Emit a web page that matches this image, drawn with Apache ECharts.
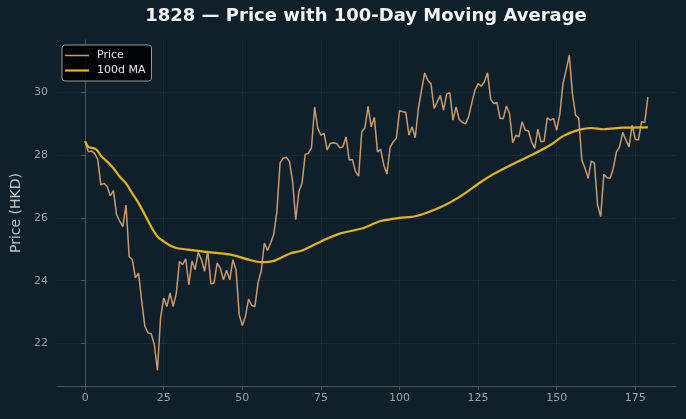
<!DOCTYPE html>
<html><head><meta charset="utf-8">
<script src="https://cdn.jsdelivr.net/npm/echarts@6/dist/echarts.min.js"></script>
<style>html,body{margin:0;padding:0;background:#10202a;} #c{width:686px;height:419px;}</style>
</head><body><div id="c"></div>
<script>
const chartTitle = "1828 — Price with 100-Day Moving Average";
const yAxisName = "Price (HKD)";
const seriesNames = ["Price", "100d MA"];
const price = [
28.44,28.10,28.13,28.05,27.87,27.05,27.10,27.00,26.70,26.87,
26.10,25.90,25.72,26.41,24.77,24.67,24.09,24.24,23.34,22.55,
22.34,22.31,21.97,21.15,22.82,23.45,23.18,23.61,23.18,23.60,
24.61,24.51,24.70,23.87,24.63,24.35,24.90,24.67,24.30,24.95,
23.90,23.93,24.56,24.40,24.03,24.33,24.03,24.67,24.35,22.92,
22.57,22.87,23.42,23.21,23.18,23.93,24.30,25.20,24.96,25.20,
25.48,26.20,27.74,27.90,27.93,27.79,27.15,25.94,26.84,27.10,
28.02,28.05,28.23,29.53,28.85,28.63,28.69,28.16,28.37,28.39,
28.37,28.23,28.26,28.58,27.84,27.86,27.47,27.33,28.74,28.87,
29.55,28.90,29.20,28.10,28.18,27.68,27.40,28.24,28.42,28.53,
29.41,29.38,29.36,28.63,28.90,28.55,29.48,30.06,30.61,30.38,
30.27,29.48,29.69,29.90,29.43,29.94,29.98,29.11,29.53,29.13,
29.04,28.99,29.22,29.66,30.06,30.27,30.19,30.33,30.62,29.77,
29.64,29.67,29.16,29.16,29.56,29.32,28.39,28.63,28.58,29.06,
28.79,28.77,28.42,28.21,28.82,28.42,28.44,29.18,29.11,29.16,
28.79,29.30,30.27,30.70,31.17,29.96,29.27,29.18,27.84,27.58,
27.26,27.81,27.74,26.41,26.04,27.39,27.28,27.26,27.58,28.09,
28.26,28.72,28.48,28.26,28.95,28.50,28.48,29.06,29.03,29.84
];
const maDays = [0,1,3,4,5,7,9,11,13,15,17,19,21,23,25,27,29,32,36,40,44,48,52,56,60,65,69,75,81,88,94,100,105,113,119,126,130,135,142,148,152,156,161,165,171,179];
const maValues = [28.44,28.26,28.21,28.13,27.98,27.79,27.58,27.31,27.10,26.78,26.47,26.10,25.72,25.41,25.25,25.12,25.04,25.00,24.95,24.90,24.86,24.79,24.67,24.59,24.63,24.86,24.96,25.25,25.50,25.66,25.90,26.00,26.05,26.34,26.66,27.15,27.40,27.66,28.00,28.32,28.60,28.77,28.86,28.82,28.87,28.88];
const xTicks = [0,25,50,75,100,125,150,175];
const yTicks = [22,24,26,28,30];

const priceData = price.map((v, i) => [i, v]);
const maData = maDays.map((d, k) => [d, maValues[k]]);

const axisCol = '#4a555a';
const labelCol = '#9aa0a3';
const gridCol = 'rgba(255,255,255,0.045)';
const font = 'DejaVu Sans';
const priceCol = '#c99b6c';
const maCol = '#e2b41c';

const chart = echarts.init(document.getElementById('c'), null, {renderer: 'canvas'});
chart.setOption({
  backgroundColor: '#10202a',
  animation: false,
  title: {
    text: chartTitle, left: 366, top: 7, textAlign: 'center', padding: 0,
    textStyle: {color: '#f2f2f2', fontSize: 18, fontWeight: 'bold', fontFamily: font}
  },
  legend: {
    left: 62, top: 45, orient: 'vertical',
    backgroundColor: 'rgba(0,0,0,0.85)', borderColor: '#9a9a9a', borderWidth: 1, borderRadius: 3,
    padding: [5, 6, 5, 3], itemGap: 4, itemWidth: 24, itemHeight: 10,
    textStyle: {color: '#e6e6e6', fontSize: 11, fontFamily: font, padding: [0, 0, 0, 3]},
    data: [
      {name: seriesNames[0], icon: 'path://M0,4.25 L24,4.25 L24,5.75 L0,5.75 Z', itemStyle: {color: priceCol}},
      {name: seriesNames[1], icon: 'path://M0,3.9 L24,3.9 L24,6.1 L0,6.1 Z', itemStyle: {color: maCol}}
    ]
  },
  grid: {left: 57, right: 10, top: 40, bottom: 33, containLabel: false, outerBoundsMode: 'none'},
  xAxis: {
    type: 'value', min: -8.95, max: 187.95,
    axisLine: {show: true, lineStyle: {color: axisCol, width: 1}},
    axisTick: {show: true, length: 4, lineStyle: {color: axisCol}, customValues: xTicks},
    axisLabel: {color: labelCol, fontSize: 11, fontFamily: font, margin: 7, customValues: xTicks},
    splitLine: {show: true, lineStyle: {color: gridCol, width: 1}}
  },
  yAxis: {
    type: 'value', min: 20.65, max: 31.66,
    name: yAxisName, nameLocation: 'middle', nameGap: 33, nameRotate: 90,
    nameTextStyle: {color: '#bfc3c5', fontSize: 14, fontFamily: font},
    axisLine: {show: true, lineStyle: {color: axisCol, width: 1}},
    axisTick: {show: true, length: 4, lineStyle: {color: axisCol}, customValues: yTicks},
    axisLabel: {color: labelCol, fontSize: 11, fontFamily: font, margin: 9, customValues: yTicks},
    splitLine: {show: true, lineStyle: {color: gridCol, width: 1}}
  },
  series: [
    {name: seriesNames[0], type: 'line', data: priceData, showSymbol: false, symbol: 'none',
     lineStyle: {color: priceCol, width: 1.5}, itemStyle: {color: priceCol}, z: 2},
    {name: seriesNames[1], type: 'line', data: maData, showSymbol: false, symbol: 'none', smooth: 0.3,
     lineStyle: {color: maCol, width: 2.2}, itemStyle: {color: maCol}, z: 3}
  ]
});
</script>
</body></html>
